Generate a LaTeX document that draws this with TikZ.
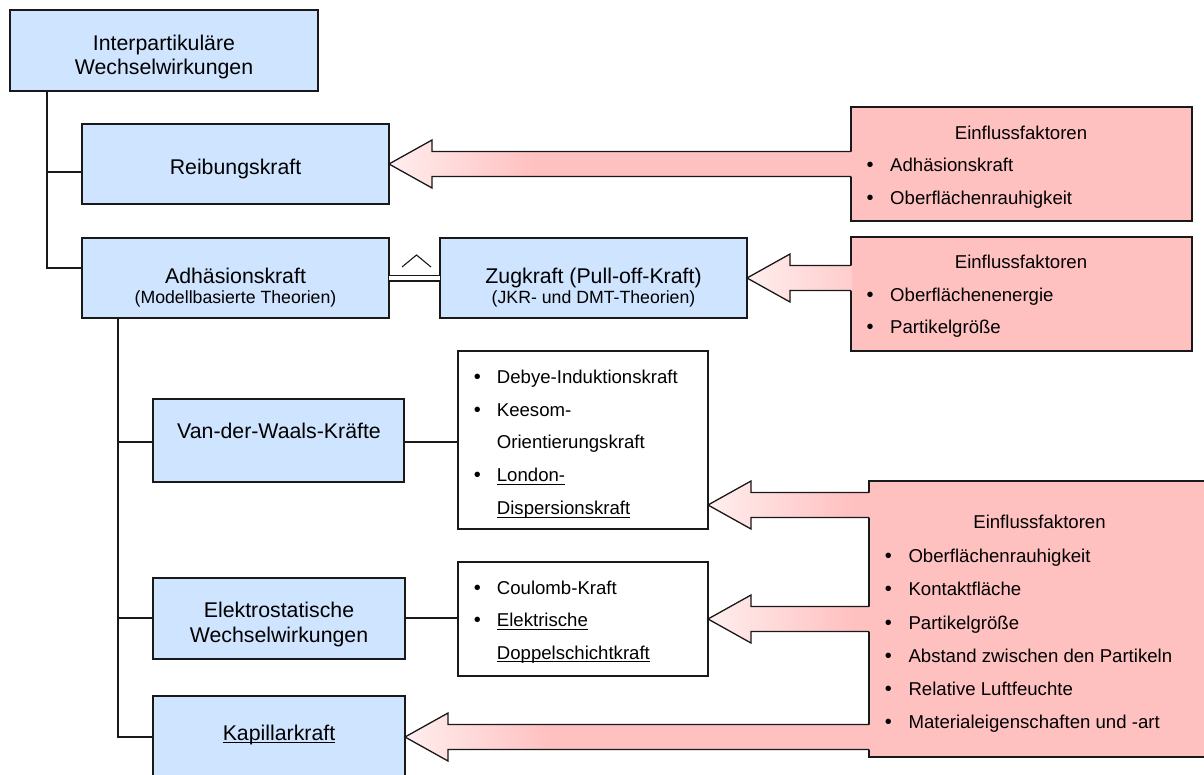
\documentclass[tikz,border=0pt]{standalone}
\usepackage{fontspec}
\setmainfont{Liberation Sans}
\usetikzlibrary{calc}
\definecolor{boxblue}{RGB}{207,228,255}
\definecolor{boxpink}{RGB}{255,192,192}
\definecolor{arrL}{RGB}{255,238,238}
\definecolor{lin}{RGB}{25,25,25}
\newsavebox\ulbox
\newcommand\myul[1]{\sbox\ulbox{#1}\rlap{\rule[-3.4pt]{\wd\ulbox}{1.2pt}}\usebox\ulbox}
\tikzset{
 bluebox/.style={draw=lin, line width=1.8pt, fill=boxblue, inner sep=0pt, outer sep=0pt},
 pinkbox/.style={draw=lin, line width=1.8pt, fill=boxpink, inner sep=0pt, outer sep=0pt},
 listbox/.style={draw=lin, line width=1.6pt, fill=white, inner sep=0pt, outer sep=0pt},
 conn/.style={draw=lin, line width=1.5pt},
 arrowline/.style={draw=lin, line width=1.3pt, line join=miter},
 tbig/.style={font=\fontsize{21.3}{24}\selectfont, inner sep=0pt, anchor=base},
 tsmall/.style={font=\fontsize{17.7}{20}\selectfont, inner sep=0pt, anchor=base},
 titem/.style={font=\fontsize{18.6}{21}\selectfont, inner sep=0pt, anchor=base west},
 tbul/.style={font=\fontsize{20}{21}\selectfont, inner sep=0pt, anchor=base},
 ttitle/.style={font=\fontsize{18.6}{21}\selectfont, inner sep=0pt, anchor=base},
}
\newcommand\bitem[5]{\node[tbul] (#1b) at (#2,#4) {•}; \node[titem] (#1) at (#3,#4) {#5};}
\newcommand\fatarrow[2]{%
 \begin{scope}
  \clip let \p1=(#1), \p2=(#2.west) in (\x1,\y1) -- (\x1+43pt,\y1+24pt) -- (\x1+43pt,\y1+12.5pt) -- (\x2+1.5pt,\y1+12.5pt) -- (\x2+1.5pt,\y1-12.5pt) -- (\x1+43pt,\y1-12.5pt) -- (\x1+43pt,\y1-24pt) -- cycle;
  \fill[boxpink] let \p1=(#1), \p2=(#2.west) in (\x1,\y1-25pt) rectangle (\x2+2pt,\y1+25pt);
  \shade[left color=arrL, right color=boxpink] let \p1=(#1) in (\x1,\y1-25pt) rectangle (\x1+145pt,\y1+25pt);
 \end{scope}
 \draw[arrowline] let \p1=(#1), \p2=(#2.west) in (\x2,\y1+12.5pt) -- (\x1+43pt,\y1+12.5pt) -- (\x1+43pt,\y1+24pt) -- (\x1,\y1) -- (\x1+43pt,\y1-24pt) -- (\x1+43pt,\y1-12.5pt) -- (\x2,\y1-12.5pt);
}
\begin{document}
\begin{tikzpicture}[x=1pt,y=-1pt]
\useasboundingbox (0,0) rectangle (1204,774);
% boxes
\node[bluebox, minimum width=308pt, minimum height=81pt] (ip) at (164,50.5) {};
\node[bluebox, minimum width=307pt, minimum height=80pt] (rb) at (235.5,164) {};
\node[bluebox, minimum width=307pt, minimum height=80pt] (ad) at (235.5,278) {};
\node[bluebox, minimum width=307pt, minimum height=80pt] (zg) at (593.5,278) {};
\node[bluebox, minimum width=251pt, minimum height=83pt] (vdw) at (278.5,440.5) {};
\node[bluebox, minimum width=252pt, minimum height=81pt] (el) at (279,618.5) {};
\node[bluebox, minimum width=252pt, minimum height=80pt] (kp) at (279,736) {};
\node[listbox, minimum width=250pt, minimum height=178pt] (db) at (583,440) {};
\node[listbox, minimum width=250pt, minimum height=114pt] (cb) at (583,619) {};
\node[pinkbox, minimum width=341pt, minimum height=114pt] (e1) at (1021.5,164) {};
\node[pinkbox, minimum width=341pt, minimum height=114pt] (e2) at (1021.5,294) {};
\node[pinkbox, minimum width=341pt, minimum height=276pt] (e3) at (1039.5,619) {};
% connectors
\coordinate (t1) at ([xshift=37pt]ip.south west);
\coordinate (rbc) at ([yshift=-8pt]rb.west);
\coordinate (adc) at ([yshift=10pt]ad.west);
\draw[conn] (t1) |- (adc);
\draw[conn] (t1 |- rbc) -- (rbc);
\coordinate (t2) at ([xshift=36pt]ad.south west);
\coordinate (vdwc) at ([yshift=-1.5pt]vdw.west);
\coordinate (elc) at ([yshift=0.5pt]el.west);
\coordinate (kpc) at ([yshift=-1pt]kp.west);
\draw[conn] (t2) |- (kpc);
\draw[conn] (t2 |- vdwc) -- (vdwc);
\draw[conn] (t2 |- elc) -- (elc);
\draw[lin, line width=2.4pt] (118,480) -- (118,513);
\draw[conn] (vdwc -| vdw.east) -- (vdwc -| db.west);
\draw[conn] (elc -| el.east) -- (elc -| cb.west);
\draw[lin, line width=1.2pt, double=white, double distance=4.6pt] (ad.east) -- (zg.west);
\draw[lin, line width=1.1pt] (402,267) -- (416.5,255) -- (431,267);
% arrows
\fatarrow{rb.east}{e1}
\fatarrow{zg.east}{e2}
\fatarrow{[yshift=-65pt]db.east}{e3}
\fatarrow{cb.east}{e3}
\fatarrow{[yshift=-1pt]kp.east}{e3}
% texts
\node[tbig] (ip1) at (164,50) {Interpartikuläre};
\node[tbig] (ip2) at (164,74) {Wechselwirkungen};
\node[tbig] (rbt) at (235.5,174) {Reibungskraft};
\node[tbig] (adt) at (235.5,283) {Adhäsionskraft};
\node[tsmall] (ads) at (235.5,303) {(Modellbasierte Theorien)};
\node[tbig] (zgt) at (593.5,283) {Zugkraft (Pull-off-Kraft)};
\node[tsmall] (zgs) at (593.5,303) {(JKR- und DMT-Theorien)};
\node[tbig] (vdwt) at (279,438) {Van-der-Waals-Kräfte};
\node[tbig] (el1) at (279,617) {Elektrostatische};
\node[tbig] (el2) at (279,642) {Wechselwirkungen};
\node[tbig] (kpt) at (279,740) {\myul{Kapillarkraft}};
% list vdW
\bitem{d1}{477.3}{496.7}{383.5}{Debye-Induktionskraft}
\bitem{d2}{477.3}{496.7}{416.2}{Keesom-}
\node[titem] (d2x) at (496.7,448.9) {Orientierungskraft};
\bitem{d3}{477.3}{496.7}{481.6}{\myul{London-}}
\node[titem] (d3x) at (496.7,514.3) {\myul{Dispersionskraft}};
% list coulomb
\bitem{c1}{477.3}{496.7}{594}{Coulomb-Kraft}
\bitem{c2}{477.3}{496.7}{626.5}{\myul{Elektrische}}
\node[titem] (c2x) at (496.7,659) {\myul{Doppelschichtkraft}};
% pink 1
\node[ttitle] (e1t) at (1021,139) {Einflussfaktoren};
\bitem{p1}{870}{890}{171.7}{Adhäsionskraft}
\bitem{p2}{870}{890}{204.4}{Oberflächenrauhigkeit}
% pink 2
\node[ttitle] (e2t) at (1021,268.3) {Einflussfaktoren};
\bitem{q1}{870}{890}{301}{Oberflächenenergie}
\bitem{q2}{870}{890}{333.7}{Partikelgröße}
% pink 3
\node[ttitle] (e3t) at (1039.5,528.3) {Einflussfaktoren};
\bitem{r1}{888.3}{908.3}{562.7}{Oberflächenrauhigkeit}
\bitem{r2}{888.3}{908.3}{595.9}{Kontaktfläche}
\bitem{r3}{888.3}{908.3}{629.1}{Partikelgröße}
\bitem{r4}{888.3}{908.3}{662.3}{Abstand zwischen den Partikeln}
\bitem{r5}{888.3}{908.3}{695.5}{Relative Luftfeuchte}
\bitem{r6}{888.3}{908.3}{728.7}{Materialeigenschaften und -art}
\end{tikzpicture}
\end{document}
